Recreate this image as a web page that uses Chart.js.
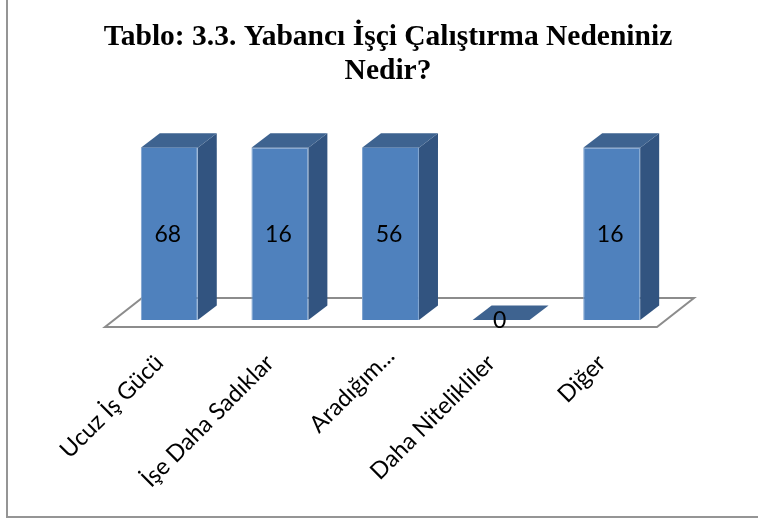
<!DOCTYPE html>
<html><head><meta charset="utf-8">
<script src="https://cdn.jsdelivr.net/npm/chart.js@4/dist/chart.umd.min.js"></script>
<style>html,body{margin:0;padding:0;background:#fff}#w{position:relative;width:758px;height:519px}canvas{display:block}</style>
</head><body><div id="w"><canvas id="c" width="758" height="519"></canvas></div>
<script>
const categories = ["Ucuz İş Gücü","İşe Daha Sadıklar","Aradığım...","Daha Nitelikliler","Diğer"];
const values = [68,16,56,0,16];
const axisMax = 16;
const titleLines = ["Tablo: 3.3. Yabancı İşçi Çalıştırma Nedeniniz","Nedir?"];
const DX=19, DY=14.5;
const frame = {
  id:'frame',
  beforeDraw(ch){
    const c=ch.ctx;c.save();c.fillStyle='#fff';c.fillRect(0,0,ch.width,ch.height);
    c.strokeStyle='#959595';c.lineWidth=2;
    c.beginPath();c.moveTo(7,-2);c.lineTo(7,517);c.lineTo(760,517);c.stroke();c.restore();
    const s=ch.scales.x,items=s._computeLabelItems(ch.chartArea);
    const t=items[2].options.translation;
    items[2].options.translation=[t[0]+10,t[1]-7];
    s._labelItems=items;
  },
  beforeDatasetsDraw(ch){
    const c=ch.ctx,a=ch.chartArea;c.save();
    const l=a.left-9,r=a.right-10,b=a.bottom+7;
    c.fillStyle='#fff';c.strokeStyle='#8c8c8c';c.lineWidth=2;c.beginPath();
    c.moveTo(l,b);c.lineTo(r,b);c.lineTo(r+37,b-29);c.lineTo(l+37,b-29);c.closePath();c.fill();c.stroke();
    ch.getDatasetMeta(0).data.forEach(el=>{
      const x0=el.x-el.width/2,x1=el.x+el.width/2,bot=el.base,top=Math.max(el.y,a.top);
      c.fillStyle='#325480';c.beginPath();c.moveTo(x1,bot);c.lineTo(x1+DX,bot-DY);c.lineTo(x1+DX,top-DY);c.lineTo(x1,top);c.closePath();c.fill();
      c.fillStyle='#3e6390';c.beginPath();c.moveTo(x0,top);c.lineTo(x1,top);c.lineTo(x1+DX,top-DY);c.lineTo(x0+DX,top-DY);c.closePath();c.fill();
    });
    c.restore();
  },
  afterDatasetsDraw(ch){
    const c=ch.ctx,a=ch.chartArea;c.save();
    c.font='23px Lato';c.fillStyle='#000';c.textAlign='center';c.textBaseline='middle';
    ch.getDatasetMeta(0).data.forEach((el,i)=>{
      const top=Math.max(el.y,a.top);
      c.fillText(String(values[i]),el.x-1.5,(top+el.base)/2+1);
    });
    c.restore();
  }
};
new Chart(document.getElementById('c'),{
  type:'bar',
  data:{labels:categories,datasets:[{data:values,backgroundColor:'#4f81bd',borderColor:'#7ea3cf',borderWidth:1,barPercentage:1,categoryPercentage:0.515}]},
  options:{
    responsive:false,animation:false,
    layout:{padding:{left:90,right:72,top:0,bottom:0}},
    plugins:{legend:{display:false},tooltip:{enabled:false},
      title:{display:true,text:titleLines,color:'#000',font:{family:'"Liberation Serif"',size:29.5,weight:'bold',lineHeight:1.15},padding:{top:20,bottom:60}}},
    scales:{
      y:{display:true,min:0,max:axisMax,grid:{display:false},border:{display:false},ticks:{display:false},afterFit(s){s.width=24;}},
      y2:{display:true,position:'right',min:0,max:axisMax,grid:{display:false},border:{display:false},ticks:{display:false},afterFit(s){s.width=19;}},
      x:{grid:{display:false},border:{display:false},
        afterFit(s){s.height=199;},
        ticks:{minRotation:45,maxRotation:45,autoSkip:false,color:'#000',padding:21,labelOffset:-10,font:{family:'Lato',size:23.5}}}
    }
  },
  plugins:[frame]
});
</script></body></html>
